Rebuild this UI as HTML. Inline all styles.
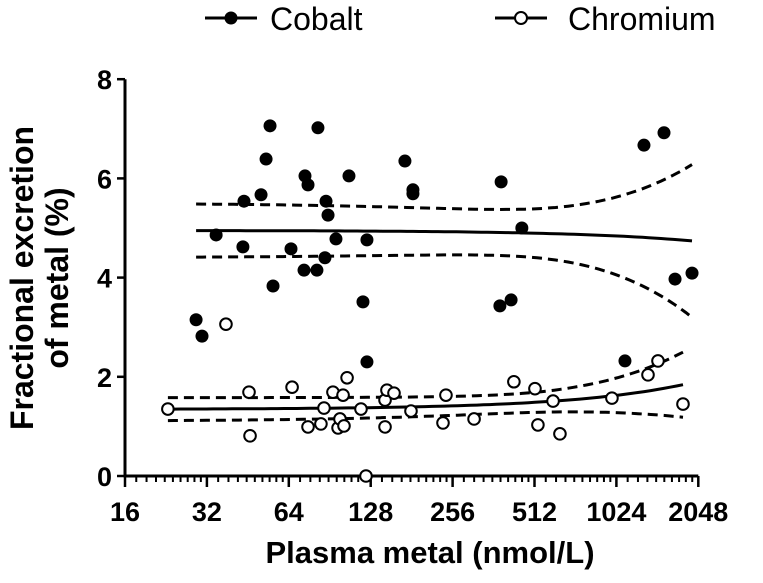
<!DOCTYPE html>
<html><head><meta charset="utf-8"><style>
html,body{margin:0;padding:0;background:#fff;}
svg text{font-family:"Liberation Sans",Arial,sans-serif;font-weight:bold;fill:#000;}
</style></head><body>
<svg id="chart" width="763" height="578" viewBox="0 0 763 578" xmlns="http://www.w3.org/2000/svg">
<g>
 <g>
  <line x1="205" y1="18" x2="257" y2="18" stroke="#000" stroke-width="3"/>
  <circle cx="231" cy="18" r="6.5" fill="#000"/>
  <text x="270" y="30" font-size="32" style="font-weight:normal">Cobalt</text>
 </g>
 <g>
  <line x1="495" y1="18" x2="547" y2="18" stroke="#000" stroke-width="3"/>
  <circle cx="521" cy="18" r="6" fill="#fff" stroke="#000" stroke-width="2"/>
  <text x="568" y="30" font-size="32" style="font-weight:normal">Chromium</text>
 </g>
</g>
<text transform="translate(33,278) rotate(-90)" text-anchor="middle" font-size="32">Fractional excretion</text>
<text transform="translate(68,278) rotate(-90)" text-anchor="middle" font-size="32">of metal (%)</text>
<text x="430" y="563" text-anchor="middle" font-size="31">Plasma metal (nmol/L)</text>
<g id="axes"></g>
<g id="marks"></g>
</svg>
<script>
const xTicks=[16,32,64,128,256,512,1024,2048];
const yTicks=[0,2,4,6,8];
const cobaltX=[54.6,81.9,52.8,73.4,75.3,106.5,171,183,183,386,1293,1532,50.6,43.8,87.7,89.2,34.6,95.4,124,460,43.4,65.2,86.9,72.8,81.2,56.0,1682,1942,119.9,382,420,29.2,30.7,124,1101];
const cobaltY=[7.06,7.02,6.39,6.05,5.87,6.05,6.35,5.77,5.69,5.93,6.67,6.92,5.67,5.54,5.54,5.26,4.86,4.78,4.76,5.00,4.62,4.58,4.40,4.15,4.15,3.83,3.97,4.09,3.51,3.43,3.55,3.15,2.82,2.30,2.32];
const chromX=[37.6,23.0,45.7,46.1,65.8,75.3,84.0,86.2,93.0,97.1,98.7,101.3,102.1,104.8,117.9,123,144.5,144.5,146.9,155.9,180,236,242,307,430,514,527,599,635,986,1338,1456,1799];
const chromY=[3.06,1.35,1.69,0.81,1.79,0.99,1.05,1.37,1.69,0.97,1.15,1.63,1.01,1.98,1.35,0.0,0.99,1.53,1.73,1.67,1.31,1.07,1.63,1.15,1.90,1.76,1.03,1.51,0.85,1.57,2.04,2.32,1.45];

const X0=125,OCT=81.9,Y0=476,YU=49.6;
const sx=v=>X0+OCT*Math.log2(v/16);
const sy=v=>Y0-YU*v;
const NS="http://www.w3.org/2000/svg";
function mk(tag,attrs,parent){const e=document.createElementNS(NS,tag);for(const k in attrs)e.setAttribute(k,attrs[k]);parent.appendChild(e);return e;}
const axes=document.getElementById('axes'),marks=document.getElementById('marks');

let yl=mk('line',{x1:X0,y1:sy(8),x2:X0,y2:Y0+1.5,stroke:'#000','stroke-width':3},axes);


let xl=mk('line',{x1:X0-1.5,y1:Y0,x2:sx(2048),y2:Y0,stroke:'#000','stroke-width':3},axes);


yTicks.forEach(t=>{
 mk('line',{x1:X0-8,y1:sy(t),x2:X0,y2:sy(t),stroke:'#000','stroke-width':2.5},axes);
 const tx=mk('text',{x:X0-13,y:sy(t)+10,'text-anchor':'end','font-size':27},axes);
 tx.textContent=t;
 
 
});
xTicks.forEach((t,i)=>{
 mk('line',{x1:sx(t),y1:Y0,x2:sx(t),y2:Y0+11,stroke:'#000','stroke-width':2.5},axes);
 if(i<xTicks.length-1){for(let k=1;k<10;k++){const v=t*(1+k/10);mk('line',{x1:sx(v),y1:Y0,x2:sx(v),y2:Y0+6,stroke:'#000','stroke-width':2},axes);}}
 const tx=mk('text',{x:sx(t),y:Y0+45,'text-anchor':'middle','font-size':27},axes);
 tx.textContent=t;
 
 
});

function regress(xs,ys,name){
 const n=xs.length;const mx=xs.reduce((a,b)=>a+b)/n,my=ys.reduce((a,b)=>a+b)/n;
 let sxx=0,sxy=0;xs.forEach((x,i)=>{sxx+=(x-mx)**2;sxy+=(x-mx)*(ys[i]-my);});
 const b=sxy/sxx,a=my-b*mx;let ss=0;xs.forEach((x,i)=>{ss+=(ys[i]-a-b*x)**2;});
 const s=Math.sqrt(ss/(n-2)),t=2.04;
 const lo=Math.min(...xs),hi=Math.max(...xs);
 let pm='',pu='',pl='';
 for(let j=0;j<=80;j++){const lv=Math.log2(lo)+(Math.log2(hi)-Math.log2(lo))*j/80;const x=2**lv;
  const f=a+b*x,h=t*s*Math.sqrt(1/n+(x-mx)**2/sxx);const c=j?'L':'M';
  pm+=c+sx(x).toFixed(1)+','+sy(f).toFixed(1);pu+=c+sx(x).toFixed(1)+','+sy(f+h).toFixed(1);pl+=c+sx(x).toFixed(1)+','+sy(f-h).toFixed(1);}
 const g=mk('path',{d:pm,fill:'none',stroke:'#000','stroke-width':3},marks);
 
 
 [pu,pl].forEach(p=>{const d=mk('path',{d:p,fill:'none',stroke:'#000','stroke-width':3,'stroke-dasharray':'10,6'},marks);
  
  });
}
regress(cobaltX,cobaltY,'cobalt');
regress(chromX,chromY,'chromium');

cobaltX.forEach((x,i)=>{const c=mk('circle',{cx:sx(x),cy:sy(cobaltY[i]),r:6.5,fill:'#000'},marks);
 
 });
chromX.forEach((x,i)=>{const c=mk('circle',{cx:sx(x),cy:sy(chromY[i]),r:5.8,fill:'#fff',stroke:'#000','stroke-width':2},marks);
 
 });
</script>
</body></html>
